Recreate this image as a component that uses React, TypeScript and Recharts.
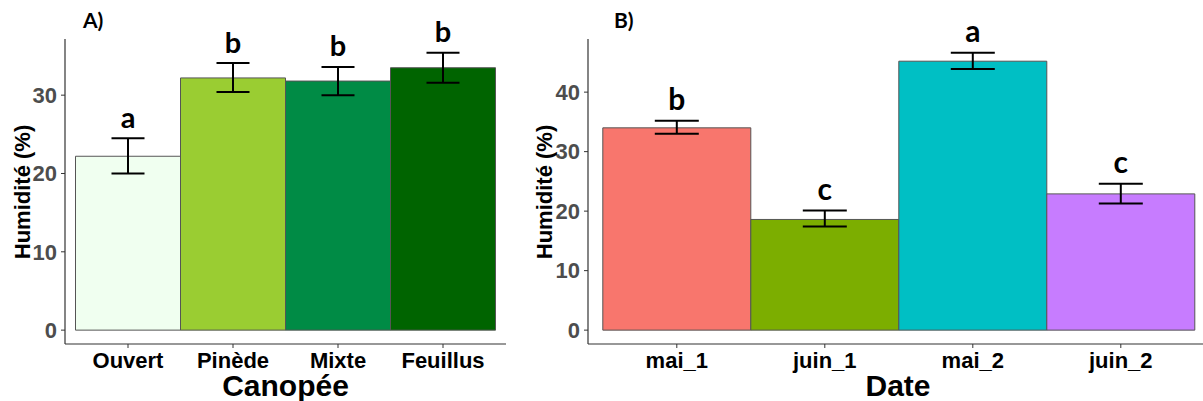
import React from 'react';
import { ComposedChart, Bar, Line, XAxis, YAxis, ErrorBar, Cell } from 'recharts';

// Panel A : humidité selon la canopée
const canopees = ['Ouvert', 'Pinède', 'Mixte', 'Feuillus'];
const humCanopee = [22.2, 32.2, 31.8, 33.5];
const humCanopeeBas = [20.0, 30.4, 30.0, 31.6];
const humCanopeeHaut = [24.5, 34.1, 33.6, 35.4];
const lettresCanopee = ['a', 'b', 'b', 'b'];
const couleursCanopee = ['#F0FFF0', '#9ACD32', '#008B45', '#006400'];
const ticksCanopee = [0, 10, 20, 30];

// Panel B : humidité selon la date
const dates = ['mai_1', 'juin_1', 'mai_2', 'juin_2'];
const humDate = [34.0, 18.6, 45.2, 22.9];
const humDateBas = [33.0, 17.4, 43.9, 21.3];
const humDateHaut = [35.2, 20.1, 46.6, 24.6];
const lettresDate = ['b', 'c', 'a', 'c'];
const couleursDate = ['#F8766D', '#7CAE00', '#00BFC4', '#C77CFF'];
const ticksDate = [0, 10, 20, 30, 40];

const SANS = '"Liberation Sans", Arial, sans-serif';
const LETTER_FONT = 'Lato, "Open Sans", sans-serif';

const buildRows = (cats: string[], vals: number[], lo: number[], hi: number[], letters: string[]) =>
  cats.map((c, i) => ({
    cat: c,
    hum: vals[i],
    err: [vals[i] - lo[i], hi[i] - vals[i]],
    top: hi[i],
    letter: letters[i],
  }));

interface PanelProps {
  rows: any[];
  colors: string[];
  ticks: number[];
  width: number;
  yWidth: number;
  right: number;
  pad: number;
  capHalf: number;
  letterSize: number;
}

const Panel: React.FC<PanelProps> = ({ rows, colors, ticks, width, yWidth, right, pad, capHalf, letterSize }) => {
  const maxTop = Math.max(...rows.map((r) => r.top));
  const domain = [-0.05 * maxTop, 1.05 * maxTop];

  const renderLetter = (props: any) => {
    const { cx, cy, payload, index } = props;
    return (
      <text
        key={`l-${index}`}
        x={cx}
        y={cy - 10.5}
        textAnchor="middle"
        fontFamily={LETTER_FONT}
        fontWeight={700}
        fontSize={letterSize}
        fill="#000"
      >
        {payload.letter}
      </text>
    );
  };

  return (
    <ComposedChart
      width={width}
      height={401}
      data={rows}
      margin={{ top: 39, right, left: 0, bottom: 0 }}
      barCategoryGap={0}
      style={{ overflow: 'visible' }}
    >
      <XAxis
        dataKey="cat"
        height={57}
        padding={{ left: pad, right: pad }}
        axisLine={{ stroke: '#333', strokeWidth: 1.2 }}
        tickLine={{ stroke: '#333' }}
        tickSize={4}
        tickMargin={4}
        tick={{ fill: '#000', fontSize: 22, fontWeight: 700, fontFamily: SANS }}
        interval={0}
      />
      <YAxis
        type="number"
        domain={domain}
        ticks={ticks}
        width={yWidth}
        axisLine={{ stroke: '#333', strokeWidth: 1.2 }}
        tickLine={{ stroke: '#333' }}
        tickSize={4}
        tickMargin={4}
        tick={{ fill: '#4D4D4D', fontSize: 22, fontWeight: 700, fontFamily: SANS }}
      />
      <Bar dataKey="hum" stroke="#555" strokeWidth={1} isAnimationActive={false}>
        {rows.map((r, i) => (
          <Cell key={`c-${i}`} fill={colors[i]} />
        ))}
        <ErrorBar dataKey="err" width={capHalf} strokeWidth={2} stroke="#000" direction="y" />
      </Bar>
      <Line
        dataKey="top"
        stroke="none"
        dot={renderLetter}
        activeDot={false}
        legendType="none"
        isAnimationActive={false}
      />
    </ComposedChart>
  );
};

export default function App() {
  const rowsA = buildRows(canopees, humCanopee, humCanopeeBas, humCanopeeHaut, lettresCanopee);
  const rowsB = buildRows(dates, humDate, humDateBas, humDateHaut, lettresDate);

  return (
    <div
      style={{
        position: 'fixed',
        left: 0,
        top: 0,
        width: 1203,
        height: 401,
        overflow: 'hidden',
        background: '#fff',
      }}
    >
      <div style={{ position: 'absolute', left: 0, top: 0 }}>
        <Panel
          rows={rowsA}
          colors={couleursCanopee}
          ticks={ticksCanopee}
          width={520}
          yWidth={65}
          right={14}
          pad={10.5}
          capHalf={16.5}
          letterSize={29}
        />
      </div>
      <div style={{ position: 'absolute', left: 520, top: 0 }}>
        <Panel
          rows={rowsB}
          colors={couleursDate}
          ticks={ticksDate}
          width={700}
          yWidth={68}
          right={10.4}
          pad={14.8}
          capHalf={22}
          letterSize={30}
        />
      </div>
      <svg
        width={1203}
        height={401}
        style={{ position: 'absolute', left: 0, top: 0, pointerEvents: 'none' }}
      >
        <text x={83} y={28} fontFamily={LETTER_FONT} fontWeight={700} fontSize={21}>A)</text>
        <text x={614} y={28} fontFamily={LETTER_FONT} fontWeight={700} fontSize={21}>B)</text>
        <text x={285.5} y={396} textAnchor="middle" fontFamily={SANS} fontWeight={700} fontSize={30}>
          Canopée
        </text>
        <text x={898} y={396} textAnchor="middle" fontFamily={SANS} fontWeight={700} fontSize={30}>
          Date
        </text>
        <text
          transform="translate(29.5,192) rotate(-90)"
          textAnchor="middle"
          fontFamily={SANS}
          fontWeight={700}
          fontSize={22}
        >
          Humidité (%)
        </text>
        <text
          transform="translate(551.5,192) rotate(-90)"
          textAnchor="middle"
          fontFamily={SANS}
          fontWeight={700}
          fontSize={22}
        >
          Humidité (%)
        </text>
      </svg>
    </div>
  );
}
